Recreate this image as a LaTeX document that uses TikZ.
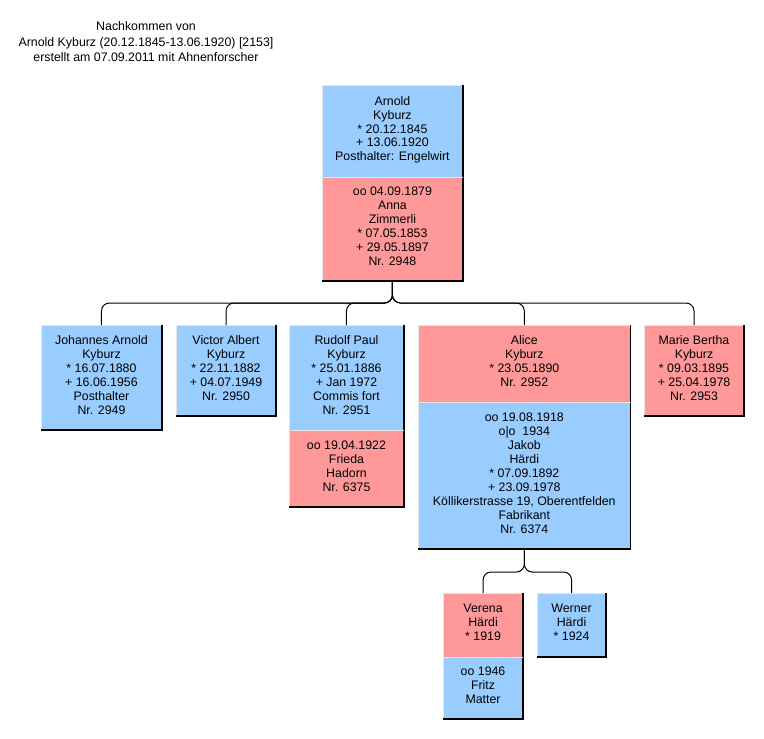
\documentclass[tikz,border=0pt]{standalone}
\usepackage{fontspec}
\setmainfont{Liberation Sans}
\definecolor{manblue}{RGB}{153,204,255}
\definecolor{womanpink}{RGB}{255,153,153}
\tikzset{
  person/.style={rectangle, anchor=north west, align=center, inner sep=0pt,
    text depth=5bp, font=\fontsize{12.4}{14}\selectfont},
  link/.style={rounded corners=8, line width=1bp},
  darkedge/.style={line width=1.4bp, black},
  lightedge/.style={line width=0.8bp, gray!20},
}
% frame of a box: light top and left, dark right and bottom
\def\boxframe#1#2{%
  \draw[lightedge] (#2.south west) -- (#1.north west) -- (#1.north east);
  \draw[darkedge] (#1.north east) -- (#2.south east) -- (#2.south west);}
\def\split#1{\draw[lightedge] (#1.south west) -- (#1.south east);}

\begin{document}
\begin{tikzpicture}[x=1bp,y=-1bp]
	\useasboundingbox (0,0) rectangle (764,739);

	% Title
	\node[align=center, font=\fontsize{12.4}{15.5}\selectfont] (title) at (146,42)
		{Nachkommen von\\Arnold Kyburz (20.12.1845-13.06.1920) [2153]\\erstellt am 07.09.2011 mit Ahnenforscher};

	% Arnold and his wife
	\node[person, fill=manblue, minimum width=141, minimum height=92] (arnold) at (322,85)
		{Arnold\\Kyburz\\* 20.12.1845\\+ 13.06.1920\\Posthalter: Engelwirt};
	\node[person, fill=womanpink, minimum width=141, minimum height=104] (anna) at (322,177)
		{oo 04.09.1879\\Anna\\Zimmerli\\* 07.05.1853\\+ 29.05.1897\\Nr. 2948};

	% Children
	\node[person, fill=manblue, minimum width=121, minimum height=105] (johannes) at (41,325)
		{Johannes Arnold\\Kyburz\\* 16.07.1880\\+ 16.06.1956\\Posthalter\\Nr. 2949};
	\node[person, fill=manblue, minimum width=100, minimum height=91] (victor) at (176,325)
		{Victor Albert\\Kyburz\\* 22.11.1882\\+ 04.07.1949\\Nr. 2950};
	\node[person, fill=manblue, minimum width=115, minimum height=105] (rudolf) at (289,325)
		{Rudolf Paul\\Kyburz\\* 25.01.1886\\+ Jan 1972\\Commis fort\\Nr. 2951};
	\node[person, fill=womanpink, minimum width=115, minimum height=77] (frieda) at (289,430)
		{oo 19.04.1922\\Frieda\\Hadorn\\Nr. 6375};
	\node[person, fill=womanpink, minimum width=213, minimum height=77] (alice) at (418,325)
		{Alice\\Kyburz\\* 23.05.1890\\Nr. 2952};
	\node[person, fill=manblue, minimum width=213, minimum height=147] (jakob) at (418,402)
		{oo 19.08.1918\\o|o\ \ 1934\\Jakob\\Härdi\\* 07.09.1892\\+ 23.09.1978\\Köllikerstrasse 19, Oberentfelden\\Fabrikant\\Nr. 6374};
	\node[person, fill=womanpink, minimum width=100, minimum height=91] (marie) at (644,325)
		{Marie Bertha\\Kyburz\\* 09.03.1895\\+ 25.04.1978\\Nr. 2953};

	% Grandchildren
	\node[person, fill=womanpink, minimum width=80, minimum height=64] (verena) at (443,593)
		{Verena\\Härdi\\* 1919};
	\node[person, fill=manblue, minimum width=80, minimum height=62] (fritz) at (443,657)
		{oo 1946\\Fritz\\Matter};
	\node[person, fill=manblue, minimum width=69, minimum height=64] (werner) at (537,593)
		{Werner\\Härdi\\* 1924};

	% Box frames
	\boxframe{arnold}{anna} \split{arnold}
	\boxframe{johannes}{johannes}
	\boxframe{victor}{victor}
	\boxframe{rudolf}{frieda} \split{rudolf}
	\boxframe{alice}{jakob} \split{alice}
	\boxframe{marie}{marie}
	\boxframe{verena}{fritz} \split{verena}
	\boxframe{werner}{werner}

	% Connectors
	\coordinate (bar1) at (0,303);
	\coordinate (bar2) at (0,572);
	\foreach \kid in {johannes,victor,rudolf,alice,marie}
		\draw[link] (anna.south) |- (\kid.north |- bar1) -- (\kid.north);
	\foreach \kid in {verena,werner}
		\draw[link] (jakob.south) |- (\kid.north |- bar2) -- (\kid.north);
\end{tikzpicture}
\end{document}
